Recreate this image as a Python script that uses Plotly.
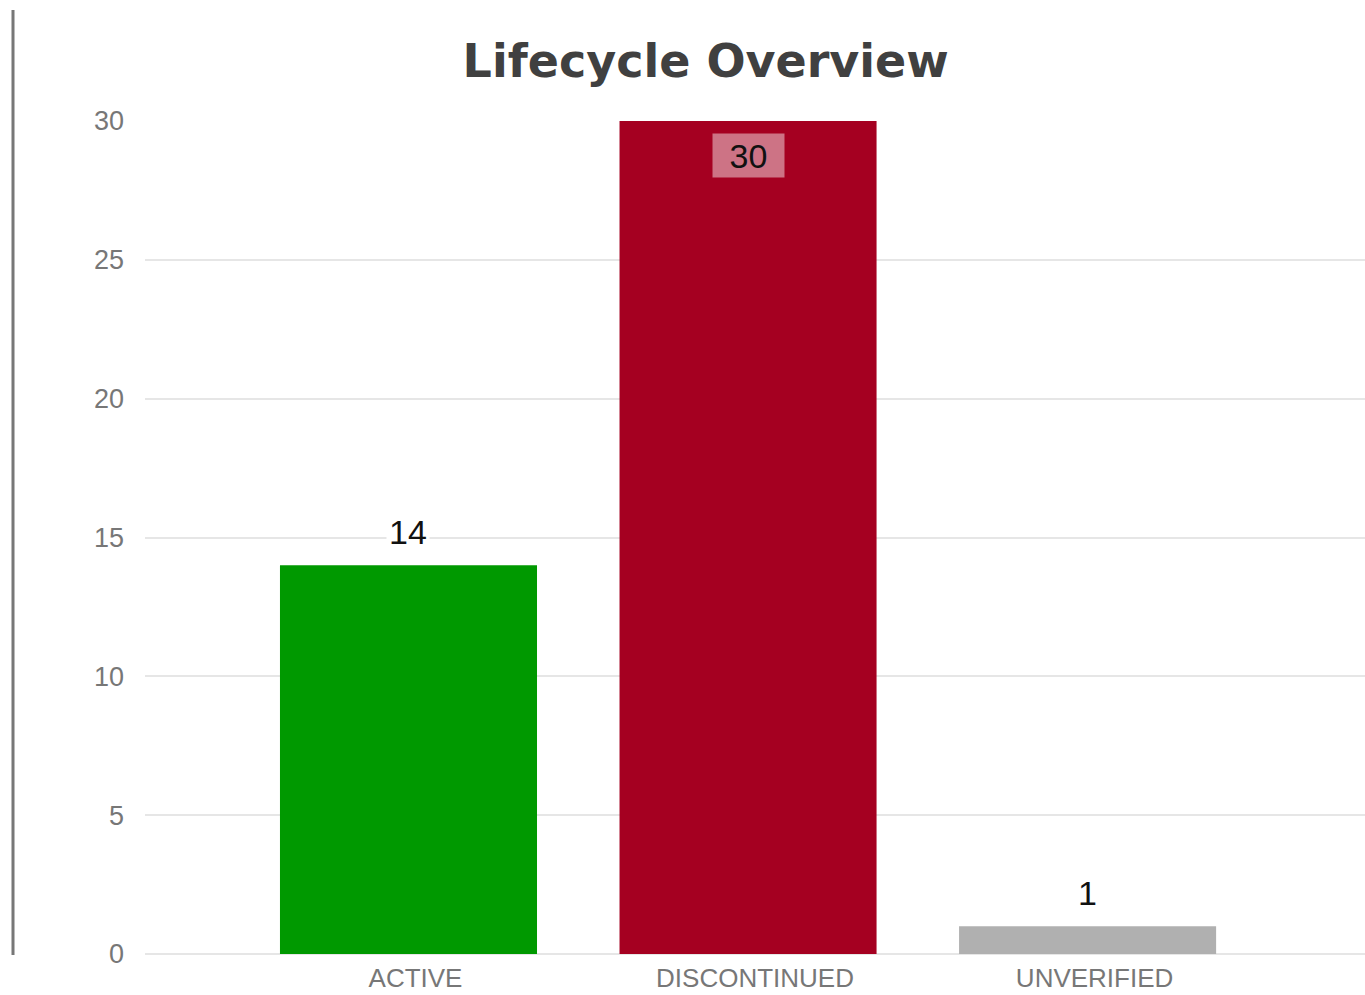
import plotly.graph_objects as go

categories = ["ACTIVE", "DISCONTINUED", "UNVERIFIED"]
values = [14, 30, 1]
colors = ["#009900", "#a50021", "#b0b0b0"]
y_ticks = [0, 5, 10, 15, 20, 25, 30]

fig = go.Figure()
fig.add_trace(go.Bar(
    x=categories, y=values, marker=dict(color=colors, line=dict(width=0)),
    width=0.757, hoverinfo="x+y", showlegend=False,
))

annotations = []
for c, v in zip(categories, values):
    if v == max(values):
        annotations.append(dict(
            x=c, y=v, xref="x", yref="y", text=str(v), showarrow=False,
            yanchor="middle", yshift=-34, font=dict(family="Liberation Sans", size=34, color="#111111"),
            bgcolor="rgba(255,255,255,0.45)", width=67, height=39, borderpad=2,
        ))
    else:
        annotations.append(dict(
            x=c, y=v, xref="x", yref="y", text=str(v), showarrow=False,
            yanchor="middle", yshift=33, font=dict(family="Liberation Sans", size=34, color="#111111"),
            bgcolor="#ffffff", borderpad=2,
        ))

fig.update_layout(
    width=1365, height=995,
    margin=dict(l=145, r=0, t=121, b=41),
    paper_bgcolor="#ffffff", plot_bgcolor="rgba(0,0,0,0)",
    title=dict(text="<b>Lifecycle Overview</b>", x=0.517, xref="container",
               xanchor="center", y=1 - 61 / 995, yanchor="middle",
               font=dict(family="DejaVu Sans", size=46, color="#404040")),
    xaxis=dict(
        range=[-0.776, 2.817], showgrid=False, zeroline=False, showline=False,
        tickfont=dict(family="Liberation Sans", size=26, color="#777777"),
        ticks="", ticklabelshift=7, ticklabelstandoff=6, fixedrange=True,
    ),
    yaxis=dict(
        range=[0, 30], tickvals=y_ticks, showgrid=True, gridcolor="#e6e6e6", gridwidth=1.5,
        zeroline=True, zerolinecolor="#e6e6e6", zerolinewidth=1.5, showline=False,
        tickfont=dict(family="Liberation Sans", size=27, color="#777777"),
        ticks="", ticklabelstandoff=20, fixedrange=True,
    ),
    annotations=annotations,
    shapes=[dict(type="line", xref="paper", yref="paper",
                 x0=(13 - 145) / 1220, x1=(13 - 145) / 1220,
                 y0=-1 / 833, y1=(954 - 10) / 833,
                 line=dict(color="#777777", width=3))],
)

fig.write_html("out.html", config={"displayModeBar": False},
               post_script="document.body.style.margin='0';document.body.style.overflow='hidden';")
